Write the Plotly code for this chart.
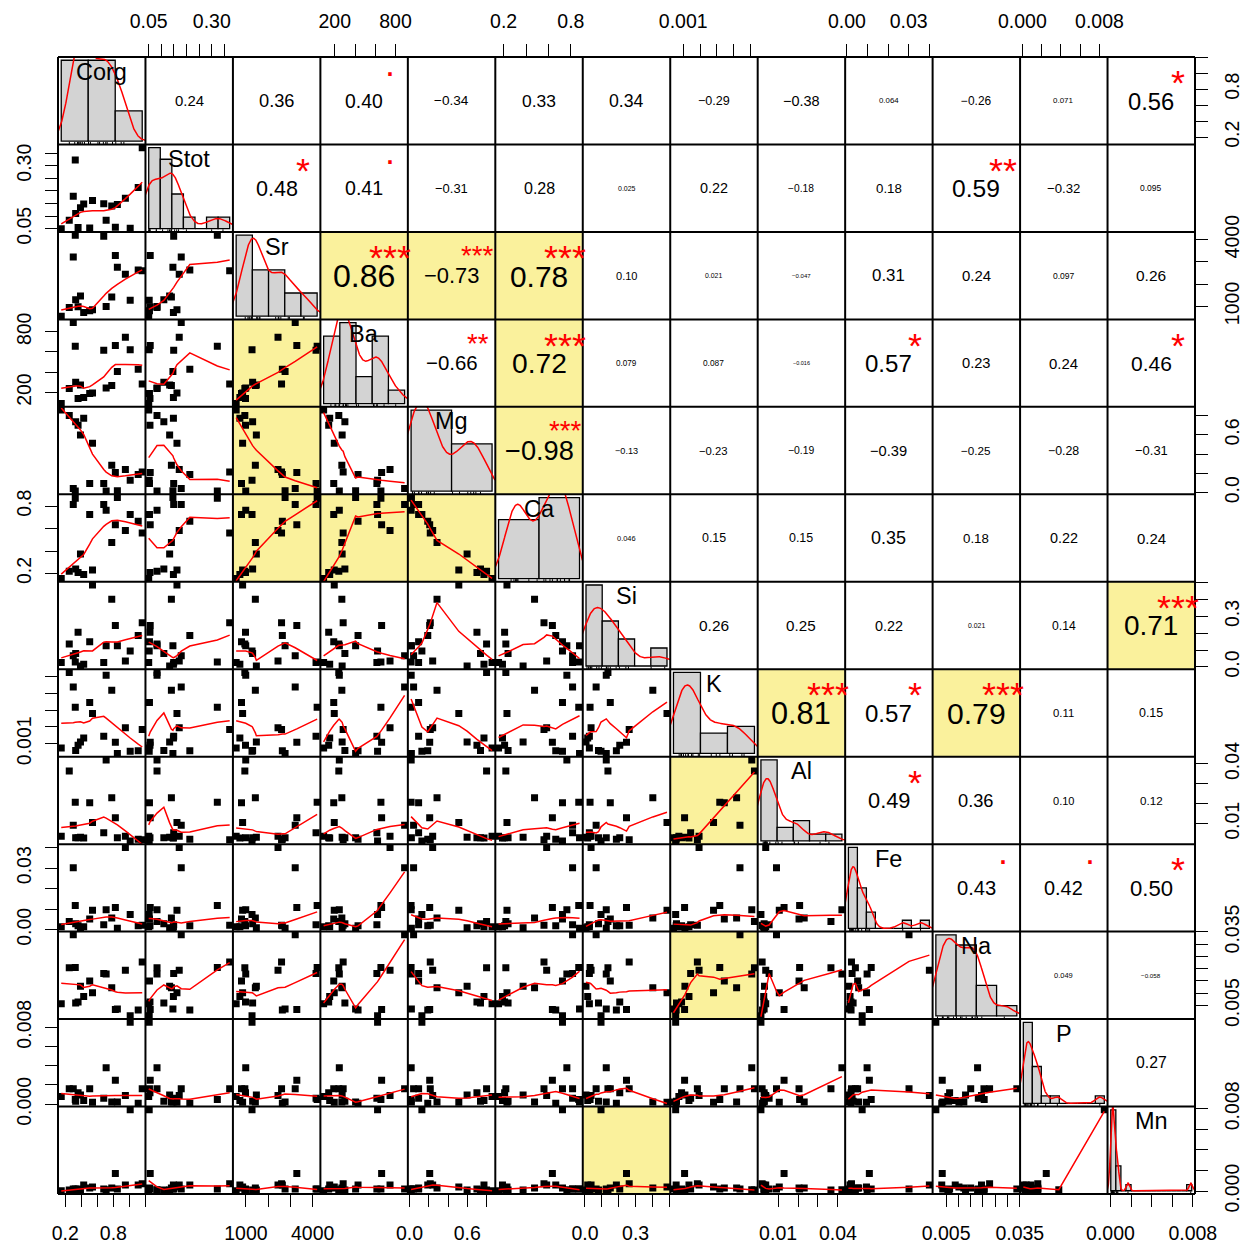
import numpy as np
import plotly.graph_objects as go

# ---------------- data (19 samples) ----------------
names = ["Corg", "Stot", "Sr", "Ba", "Mg", "Ca", "Si", "K", "Al", "Fe", "Na", "P", "Mn"]

Corg = [0.15, 0.25, 0.30, 0.325, 0.33, 0.36, 0.39, 0.43, 0.505, 0.54, 0.68, 0.71, 0.78, 0.825, 0.85, 0.95, 1.01, 1.11, 1.16]
Stot = [0.050, 0.083, 0.179, 0.322, 0.110, 0.055, 0.133, 0.148, 0.053, 0.162, 0.149, 0.083, 0.140, 0.056, 0.146, 0.171, 0.052, 0.213, 0.371]
Sr = [560, 950, 3214, 4200, 1300, 980, 1468, 727, 800, 850, 4150, 990, 1423, 3286, 2759, 2441, 1273, 2636, 2600]
Ba = [90, 240, 890, 656, 300, 140, 273, 150, 190, 195, 616, 245, 270, 663, 406, 746, 623, 430, 283]
Mg = [0.857, 0.80, 0.043, 0.017, 0.737, 0.70, 0.598, 0.773, 0.095, 0.512, 0.095, 0.018, 0.286, 0.210, 0.020, 0.241, 0.129, 0.190, 0.216]
Ca = [0.155, 0.220, 0.815, 0.870, 0.240, 0.209, 0.374, 0.190, 0.725, 0.230, 0.815, 0.764, 0.476, 0.635, 0.877, 0.584, 0.725, 0.665, 0.560]
Si = [0.026, 0.136, 0.066, 0.030, 0.080, 0.206, 0.006, 0.016, 0.150, 0.486, 0.026, 0.126, 0.402, 0.246, 0.126, 0.036, 0.095, 0.186, 0.262]
K = [0.00074, 0.00523, 0.00437, 0.00317, 0.00060, 0.00090, 0.00110, 0.00134, 0.00344, 0.00280, 0.00144, 0.00507, 0.00417, 0.00108, 0.00042, 0.00194, 0.00055, 0.00058, 0.00184]
Al = [0.0038, 0.0365, 0.0092, 0.0208, 0.0030, 0.0030, 0.0032, 0.0028, 0.0205, 0.0106, 0.0055, 0.0420, 0.0231, 0.0130, 0.0030, 0.0038, 0.0014, 0.0022, 0.0020]
Fe = [0.0015, 0.0041, 0.0302, 0.0118, 0.0030, 0.0020, 0.0010, 0.0015, 0.0052, 0.0095, 0.0025, 0.0098, 0.0057, 0.0109, 0.0007, 0.0401, 0.0074, 0.0020, 0.0022]
Na = [0.0057, 0.0204, 0.0338, 0.0205, 0.0060, 0.0064, 0.0129, 0.0087, 0.0150, 0.0102, 0.0181, 0.0178, 0.0122, 0.0034, 0.0036, 0.0194, 0.0008, 0.0032, 0.0227]
P = [0.0008, 0.0016, 0.0016, 0.0005, 0.0003, 0.0012, 0.00095, 0.0004, 0.0016, 0.0002, 0.00063, 0.00378, 0.00024, 0.00248, 0.00024, 0.0009, 0.0085, 0.0001, 0.0016]
Mn = [0.00003, 0.0001, 0.0002, 0.0002, 0.0001, 0.0002, 0.0001, 0.0006, 0.0003, 0.0004, 0.0002, 0.00013, 0.0003, 0.0017, 0.0002, 0.0006, 0.0079, 0.0006, 0.0007]

values = [Corg, Stot, Sr, Ba, Mg, Ca, Si, K, Al, Fe, Na, P, Mn]

# histogram break points of the diagonal panels
hist_breaks = [
    [0, 0.5, 1.0, 1.5],
    [0.05, 0.10, 0.15, 0.20, 0.25, 0.30, 0.35, 0.40],
    [0, 1000, 2000, 3000, 4000, 5000],
    [0, 200, 400, 600, 800, 1000],
    [0, 0.5, 1.0],
    [0, 0.5, 1.0],
    [0, 0.1, 0.2, 0.3, 0.4, 0.5],
    [0, 0.002, 0.004, 0.006],
    [0, 0.01, 0.02, 0.03, 0.04, 0.05],
    [0, 0.005, 0.010, 0.015, 0.020, 0.025, 0.030, 0.035, 0.040, 0.045],
    [0, 0.01, 0.02, 0.03, 0.04],
    [0, 0.001, 0.002, 0.003, 0.004, 0.005, 0.006, 0.007, 0.008, 0.009],
    [0, 0.0005, 0.001, 0.0015, 0.002, 0.0025, 0.003, 0.0035, 0.004, 0.0045, 0.005, 0.0055, 0.006, 0.0065, 0.007, 0.0075, 0.008],
]

# axis ticks (value, label) per variable
tick_values = [
    [0.2, 0.4, 0.6, 0.8, 1.0, 1.2],
    [0.05, 0.10, 0.15, 0.20, 0.25, 0.30, 0.35],
    [1000, 2000, 3000, 4000],
    [200, 400, 600, 800],
    [0.0, 0.2, 0.4, 0.6, 0.8],
    [0.2, 0.4, 0.6, 0.8],
    [0.0, 0.1, 0.2, 0.3, 0.4, 0.5],
    [0.001, 0.002, 0.003, 0.004, 0.005],
    [0.01, 0.02, 0.03, 0.04],
    [0.0, 0.01, 0.02, 0.03, 0.04],
    [0.005, 0.010, 0.015, 0.020, 0.025, 0.030, 0.035],
    [0.0, 0.002, 0.004, 0.006, 0.008],
    [0.0, 0.002, 0.004, 0.006, 0.008],
]
tick_labels = [
    ["0.2", "", "", "0.8", "", ""],
    ["0.05", "", "", "", "", "0.30", ""],
    ["1000", "", "", "4000"],
    ["200", "", "", "800"],
    ["0.0", "", "", "0.6", ""],
    ["0.2", "", "", "0.8"],
    ["0.0", "", "", "0.3", "", ""],
    ["0.001", "", "", "", ""],
    ["0.01", "", "", "0.04"],
    ["0.00", "", "", "0.03", ""],
    ["0.005", "", "", "", "", "", "0.035"],
    ["0.000", "", "", "", "0.008"],
    ["0.000", "", "", "", "0.008"],
]

# correlation labels of the upper panels (row i, columns i+1 .. 12)
cor_text = [
    ["0.24", "0.36", "0.40", "−0.34", "0.33", "0.34", "−0.29", "−0.38", "0.064", "−0.26", "0.071", "0.56"],
    ["0.48", "0.41", "−0.31", "0.28", "0.025", "0.22", "−0.18", "0.18", "0.59", "−0.32", "0.095"],
    ["0.86", "−0.73", "0.78", "0.10", "0.021", "−0.047", "0.31", "0.24", "0.097", "0.26"],
    ["−0.66", "0.72", "0.079", "0.087", "−0.016", "0.57", "0.23", "0.24", "0.46"],
    ["−0.98", "−0.13", "−0.23", "−0.19", "−0.39", "−0.25", "−0.28", "−0.31"],
    ["0.046", "0.15", "0.15", "0.35", "0.18", "0.22", "0.24"],
    ["0.26", "0.25", "0.22", "0.021", "0.14", "0.71"],
    ["0.81", "0.57", "0.79", "0.11", "0.15"],
    ["0.49", "0.36", "0.10", "0.12"],
    ["0.43", "0.42", "0.50"],
    ["0.049", "−0.058"],
    ["0.27"],
]
cor_signif = [
    ["", "", ".", "", "", "", "", "", "", "", "", "*"],
    ["*", ".", "", "", "", "", "", "", "**", "", ""],
    ["***", "***", "***", "", "", "", "", "", "", ""],
    ["**", "***", "", "", "", "*", "", "", "*"],
    ["***", "", "", "", "", "", "", ""],
    ["", "", "", "", "", "", ""],
    ["", "", "", "", "", "***"],
    ["***", "*", "***", "", ""],
    ["*", "", "", ""],
    [".", ".", "*"],
    ["", ""],
    [""],
]

# ---------------- styling ----------------
N = len(names)
W, H = 1246, 1245
ML, MR, MT, MB = 58, 51, 57, 51
PW = W - ML - MR
CELL = PW / N
FONT = "Liberation Sans, Arial, Helvetica, sans-serif"
YELLOW = "#FAF19C"
HIST_FILL = "#D3D3D3"

EM = {".": 0.278, "−": 0.584, "-": 0.333, "*": 0.389}
def em_width(s):
    return sum(EM.get(c, 0.556) for c in s)


def padded(lo, hi):
    d = hi - lo
    return [lo - 0.04 * d, hi + 0.04 * d]


def lowess(x, y, f=2 / 3, iters=3):
    x = np.asarray(x, float)
    y = np.asarray(y, float)
    order = np.argsort(x, kind="mergesort")
    xs, ys = x[order], y[order]
    n = len(xs)
    ns = max(2, min(n, int(f * n + 1e-7)))
    rob = np.ones(n)
    fit = np.zeros(n)
    span = xs[-1] - xs[0]
    for it in range(iters + 1):
        for i in range(n):
            d = np.abs(xs - xs[i])
            h = np.sort(d)[ns - 1]
            w = np.zeros(n)
            m = d <= 0.999 * h
            if h > 0:
                w[m] = (1 - (d[m] / h) ** 3) ** 3
            w[d <= 0.001 * h] = 1.0
            w *= rob
            a = w.sum()
            if a <= 0:
                fit[i] = ys[i]
                continue
            w = w / a
            if h > 0:
                xm = (w * xs).sum()
                c = (w * (xs - xm) ** 2).sum()
                if np.sqrt(c) > 0.001 * span:
                    b = (xs[i] - xm) / c
                    w = w * (b * (xs - xm) + 1.0)
            fit[i] = (w * ys).sum()
        if it == iters:
            break
        res = np.abs(ys - fit)
        cmad = 6 * np.median(res)
        if cmad < 1e-7 * np.mean(np.abs(ys)):
            break
        r = res / cmad
        rob = np.where(r <= 0.001, 1.0, np.where(r <= 0.999, (1 - r ** 2) ** 2, 0.0))
    return xs, fit


def density(x):
    x = np.asarray(x, float)
    n = len(x)
    sd = x.std(ddof=1)
    q75, q25 = np.percentile(x, [75, 25])
    lo = min(sd, (q75 - q25) / 1.34)
    if lo <= 0:
        lo = sd
    bw = 0.9 * lo * n ** -0.2
    g = np.linspace(x.min() - 3 * bw, x.max() + 3 * bw, 512)
    d = np.exp(-0.5 * ((g[:, None] - x[None, :]) / bw) ** 2).sum(1) / (n * bw * np.sqrt(2 * np.pi))
    return g, d


def hist_density(x, br):
    x = np.asarray(x, float)
    br = np.asarray(br, float)
    idx = np.searchsorted(br, x, side="left") - 1
    idx[x <= br[0]] = 0
    counts = np.bincount(idx, minlength=len(br) - 1)[: len(br) - 1]
    return counts / (len(x) * np.diff(br))


def aname(kind, k):
    return f"{kind}axis" if k == 1 else f"{kind}axis{k}"


def aref(kind, k):
    return kind if k == 1 else f"{kind}{k}"


fig = go.Figure()
layout = {}
tickfont = dict(family=FONT, size=19.5, color="black")

for j in range(N):
    v = np.asarray(values[j], float)
    top = j % 2 == 1
    layout[aname("x", j + 1)] = dict(
        domain=[j / N, (j + 1) / N], range=padded(v.min(), v.max()),
        anchor=aref("y", 1) if top else aref("y", N), side="top" if top else "bottom",
        tickmode="array", tickvals=tick_values[j], ticktext=tick_labels[j],
        ticks="outside", ticklen=12, tickwidth=1, tickcolor="black",
        showgrid=False, zeroline=False, showline=False, tickfont=tickfont,
        ticklabelstandoff=8 if top else 10, automargin=False,
    )
for i in range(N):
    v = np.asarray(values[i], float)
    right = i % 2 == 0
    layout[aname("y", i + 1)] = dict(
        domain=[1 - (i + 1) / N, 1 - i / N], range=padded(v.min(), v.max()),
        anchor=aref("x", N) if right else aref("x", 1), side="right" if right else "left",
        tickmode="array", tickvals=tick_values[i], ticktext=tick_labels[i],
        ticks="outside", ticklen=12, tickwidth=1, tickcolor="black", tickangle=-90,
        showgrid=False, zeroline=False, showline=False, tickfont=tickfont,
        ticklabelstandoff=8 if right else 6, automargin=False,
    )

# invisible anchors so that every outer axis has its own panel to sit on
anchor_cells = set()
for j in range(N):
    anchor_cells.add((0, j) if j % 2 == 1 else (N - 1, j))
for i in range(N):
    anchor_cells.add((i, N - 1) if i % 2 == 0 else (i, 0))
for (i, j) in sorted(anchor_cells):
    fig.add_trace(go.Scatter(x=[values[j][0]], y=[values[i][0]], mode="markers",
                             xaxis=aref("x", j + 1), yaxis=aref("y", i + 1),
                             marker=dict(size=1, opacity=0), hoverinfo="skip", showlegend=False))

# lower panels: scatter + lowess
for i in range(N):
    for j in range(i):
        xr, yr = aref("x", j + 1), aref("y", i + 1)
        fig.add_trace(go.Scatter(x=values[j], y=values[i], mode="markers", xaxis=xr, yaxis=yr,
                                 marker=dict(symbol="square", size=7, color="black"),
                                 hoverinfo="skip", showlegend=False))
        lx, ly = lowess(values[j], values[i])
        fig.add_trace(go.Scatter(x=lx, y=ly, mode="lines", xaxis=xr, yaxis=yr,
                                 line=dict(color="red", width=1.5), hoverinfo="skip", showlegend=False))

# diagonal panels: histogram + density + rug, each on its own hidden axes
for i in range(N):
    k = N + 1 + i
    br = np.asarray(hist_breaks[i], float)
    dens = hist_density(values[i], br)
    ymax = dens.max()
    layout[aname("x", k)] = dict(domain=[i / N, (i + 1) / N], range=padded(br[0], br[-1]),
                                 anchor=aref("y", k), visible=False, automargin=False)
    layout[aname("y", k)] = dict(domain=[1 - (i + 1) / N, 1 - i / N], range=padded(0, ymax),
                                 anchor=aref("x", k), visible=False, automargin=False)
    xr, yr = aref("x", k), aref("y", k)
    fig.add_trace(go.Bar(x=(br[:-1] + br[1:]) / 2, y=dens, width=np.diff(br), xaxis=xr, yaxis=yr,
                         marker=dict(color=HIST_FILL, line=dict(color="black", width=1.3)),
                         hoverinfo="skip", showlegend=False))
    gx, gy = density(values[i])
    fig.add_trace(go.Scatter(x=gx, y=gy, mode="lines", xaxis=xr, yaxis=yr,
                             line=dict(color="red", width=1.5), hoverinfo="skip", showlegend=False))
    y0 = -0.04 * ymax
    y1 = y0 + 0.03 * 1.08 * ymax
    rx, ry = [], []
    for val in values[i]:
        rx += [val, val, None]
        ry += [y0, y1, None]
    fig.add_trace(go.Scatter(x=rx, y=ry, mode="lines", xaxis=xr, yaxis=yr,
                             line=dict(color="black", width=1), hoverinfo="skip", showlegend=False))

annotations = []
shapes = []

# variable names on the diagonal
for i in range(N):
    annotations.append(dict(x=(i + 0.5) / N, y=1 - (i + 1) / N + 0.833 / N, xref="paper", yref="paper",
                            text=names[i], showarrow=False, xanchor="center", yanchor="middle",
                            font=dict(family=FONT, size=23.5, color="black")))

# upper panels: correlation value + significance stars
for i in range(N - 1):
    for jj, txt in enumerate(cor_text[i]):
        j = i + 1 + jj
        r = float(txt.replace("−", "-"))
        x0, y0 = j / N, 1 - (i + 1) / N
        ew = em_width(txt)
        fs = 0.8 * CELL * (abs(r) + 0.3) / 1.3 / ew
        annotations.append(dict(x=x0 + 0.5 / N, y=y0 + 0.5 / N, xref="paper", yref="paper", text=txt,
                                showarrow=False, xanchor="center", yanchor="middle", yshift=-0.012 * fs,
                                font=dict(family=FONT, size=fs, color="black")))
        sig = cor_signif[i][jj]
        if sig:
            fss = 0.8 * CELL / ew
            shift = 0.295 * fss if sig == "." else -0.227 * fss
            annotations.append(dict(x=x0 + 0.8 / N, y=y0 + 0.8 / N, xref="paper", yref="paper", text=sig,
                                    showarrow=False, xanchor="center", yanchor="middle", yshift=shift,
                                    font=dict(family=FONT, size=fss, color="red")))
        if abs(r) >= 0.7:
            for (ci, cj) in [(i, j), (j, i)]:
                shapes.append(dict(type="rect", xref="paper", yref="paper", layer="below",
                                   x0=cj / N, x1=(cj + 1) / N, y0=1 - (ci + 1) / N, y1=1 - ci / N,
                                   fillcolor=YELLOW, line=dict(width=0)))

# panel boxes
for k in range(N + 1):
    shapes.append(dict(type="line", xref="paper", yref="paper", x0=k / N, x1=k / N, y0=0, y1=1,
                       line=dict(color="black", width=2), layer="above"))
    shapes.append(dict(type="line", xref="paper", yref="paper", x0=0, x1=1, y0=k / N, y1=k / N,
                       line=dict(color="black", width=2), layer="above"))

fig.update_layout(
    width=W, height=H, margin=dict(l=ML, r=MR, t=MT, b=MB, pad=0, autoexpand=False), autosize=False,
    paper_bgcolor="white", plot_bgcolor="rgba(0,0,0,0)", showlegend=False,
    font=dict(family=FONT, color="black"), annotations=annotations, shapes=shapes,
    bargap=0, **layout,
)

fig.write_html("out.html", config={"displayModeBar": False, "staticPlot": True},
               post_script="document.body.style.margin='0';")
